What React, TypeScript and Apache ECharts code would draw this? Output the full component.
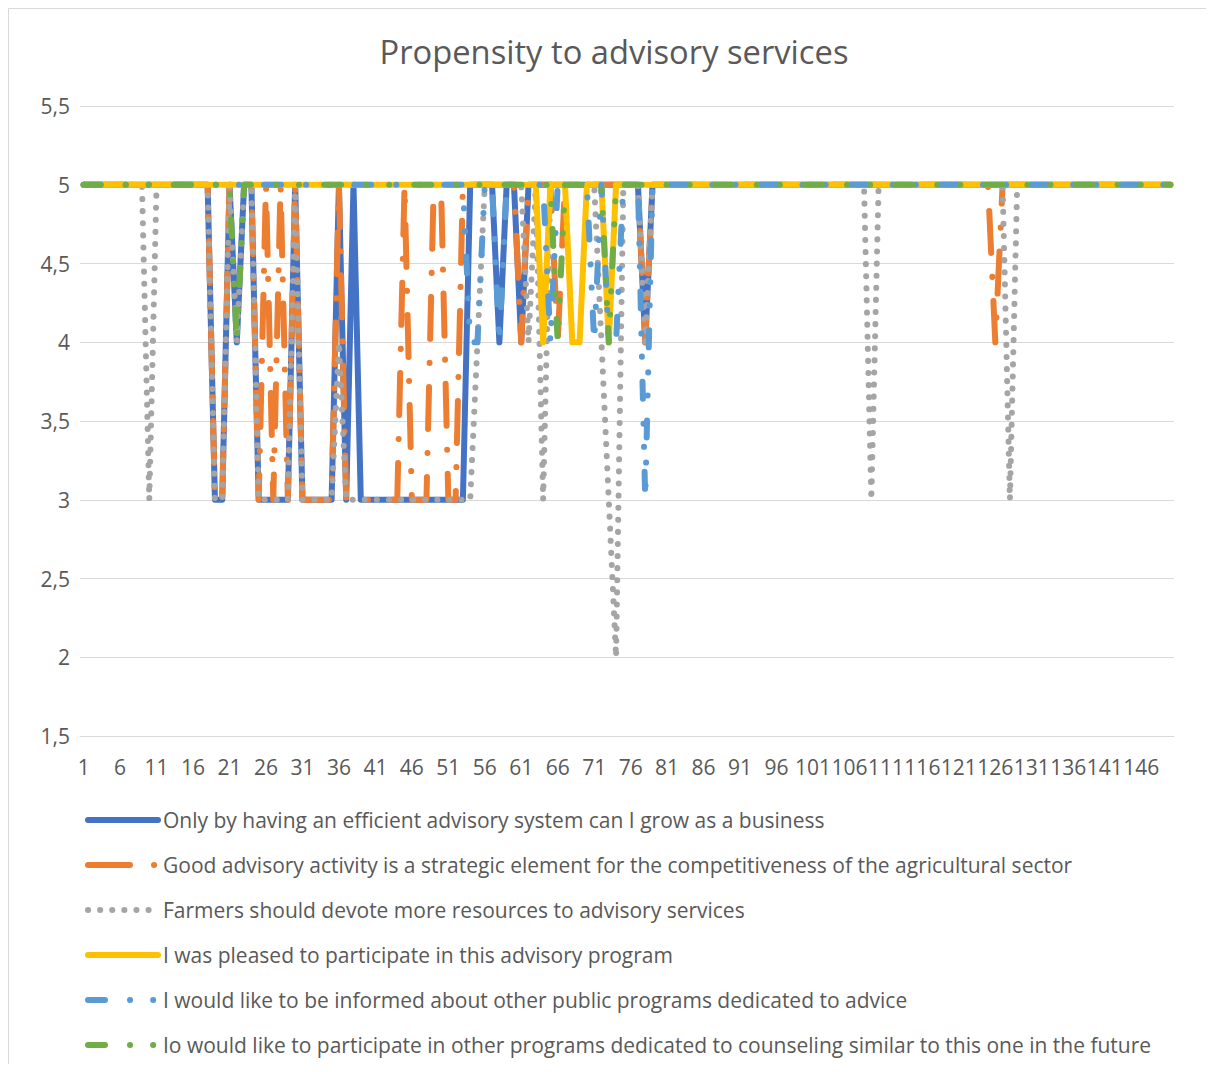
import React, { useEffect, useRef } from "react";
import * as echarts from "echarts";

const FONT = "'Open Sans', 'Noto Sans', sans-serif";
const TEXT = "#595959";

const categories: string[] = Array.from({ length: 150 }, (_, i) => String(i + 1));

const seriesNames = [
  "Only by having an efficient advisory system can I grow as a business",
  "Good advisory activity is a strategic element for the competitiveness of the agricultural sector",
  "Farmers should devote more resources to advisory services",
  "I was pleased to participate in this advisory program",
  "I would like to be informed about other public programs dedicated to advice",
  "Io would like to participate in other programs dedicated to counseling similar to this one in the future",
];

const onlyByHaving = [
  5, 5, 5, 5, 5, 5, 5, 5, 5, 5,
  5, 5, 5, 5, 5, 5, 5, 5, 3, 3,
  5, 4, 5, 5, 3, 3, 3, 3, 3, 5,
  3, 3, 3, 3, 3, 5, 3, 5, 3, 3,
  3, 3, 3, 3, 3, 3, 3, 3, 3, 3,
  3, 3, 3, 5, 5, 5, 5, 4, 5, 5,
  4, 5, 5, 5, 5, 5, 5, 5, 5, 5,
  5, 5, 5, 5, 5, 5, 5, 4, 5, 5,
  5, 5, 5, 5, 5, 5, 5, 5, 5, 5,
  5, 5, 5, 5, 5, 5, 5, 5, 5, 5,
  5, 5, 5, 5, 5, 5, 5, 5, 5, 5,
  5, 5, 5, 5, 5, 5, 5, 5, 5, 5,
  5, 5, 5, 5, 5, 5, 5, 5, 5, 5,
  5, 5, 5, 5, 5, 5, 5, 5, 5, 5,
  5, 5, 5, 5, 5, 5, 5, 5, 5, 5,
];

const goodAdvisory = [
  5, 5, 5, 5, 5, 5, 5, 5, 5, 5,
  5, 5, 5, 5, 5, 5, 5, 5, 3, 3,
  5, 5, 5, 5, 3, 5, 3, 5, 3, 5,
  3, 3, 3, 3, 3, 5, 3, 3, 3, 3,
  3, 3, 3, 3, 5, 3, 3, 3, 5, 5,
  3, 3, 5, 5, 5, 5, 5, 5, 5, 5,
  4, 5, 5, 5, 5, 4, 5, 5, 5, 5,
  5, 5, 5, 5, 5, 5, 5, 4, 5, 5,
  5, 5, 5, 5, 5, 5, 5, 5, 5, 5,
  5, 5, 5, 5, 5, 5, 5, 5, 5, 5,
  5, 5, 5, 5, 5, 5, 5, 5, 5, 5,
  5, 5, 5, 5, 5, 5, 5, 5, 5, 5,
  5, 5, 5, 5, 5, 4, 5, 5, 5, 5,
  5, 5, 5, 5, 5, 5, 5, 5, 5, 5,
  5, 5, 5, 5, 5, 5, 5, 5, 5, 5,
];

const farmersDevote = [
  5, 5, 5, 5, 5, 5, 5, 5, 5, 3,
  5, 5, 5, 5, 5, 5, 5, 5, 3, 3,
  5, 4, 5, 5, 3, 3, 3, 3, 3, 5,
  3, 3, 3, 3, 3, 4, 3, 3, 3, 3,
  3, 3, 3, 3, 3, 3, 3, 3, 3, 3,
  3, 3, 3, 3, 4, 5, 5, 5, 5, 5,
  5, 4, 5, 3, 5, 5, 5, 5, 5, 5,
  5, 4, 3, 2, 5, 5, 5, 4, 5, 5,
  5, 5, 5, 5, 5, 5, 5, 5, 5, 5,
  5, 5, 5, 5, 5, 5, 5, 5, 5, 5,
  5, 5, 5, 5, 5, 5, 5, 5, 3, 5,
  5, 5, 5, 5, 5, 5, 5, 5, 5, 5,
  5, 5, 5, 5, 5, 5, 5, 3, 5, 5,
  5, 5, 5, 5, 5, 5, 5, 5, 5, 5,
  5, 5, 5, 5, 5, 5, 5, 5, 5, 5,
];

const pleasedToParticipate = [
  5, 5, 5, 5, 5, 5, 5, 5, 5, 5,
  5, 5, 5, 5, 5, 5, 5, 5, 5, 5,
  5, 5, 5, 5, 5, 5, 5, 5, 5, 5,
  5, 5, 5, 5, 5, 5, 5, 5, 5, 5,
  5, 5, 5, 5, 5, 5, 5, 5, 5, 5,
  5, 5, 5, 5, 5, 5, 5, 5, 5, 5,
  5, 5, 5, 4, 5, 5, 5, 4, 4, 5,
  5, 5, 4, 5, 5, 5, 5, 5, 5, 5,
  5, 5, 5, 5, 5, 5, 5, 5, 5, 5,
  5, 5, 5, 5, 5, 5, 5, 5, 5, 5,
  5, 5, 5, 5, 5, 5, 5, 5, 5, 5,
  5, 5, 5, 5, 5, 5, 5, 5, 5, 5,
  5, 5, 5, 5, 5, 5, 5, 5, 5, 5,
  5, 5, 5, 5, 5, 5, 5, 5, 5, 5,
  5, 5, 5, 5, 5, 5, 5, 5, 5, 5,
];

const informedOtherPrograms = [
  5, 5, 5, 5, 5, 5, 5, 5, 5, 5,
  5, 5, 5, 5, 5, 5, 5, 5, 5, 5,
  5, 5, 5, 5, 5, 5, 5, 5, 5, 5,
  5, 5, 5, 5, 5, 5, 5, 5, 5, 5,
  5, 5, 5, 5, 5, 5, 5, 5, 5, 5,
  5, 5, 5, 4, 4, 5, 5, 4, 5, 5,
  5, 5, 5, 5, 4, 5, 5, 5, 5, 5,
  4, 5, 4, 4, 5, 5, 5, 3, 5, 5,
  5, 5, 5, 5, 5, 5, 5, 5, 5, 5,
  5, 5, 5, 5, 5, 5, 5, 5, 5, 5,
  5, 5, 5, 5, 5, 5, 5, 5, 5, 5,
  5, 5, 5, 5, 5, 5, 5, 5, 5, 5,
  5, 5, 5, 5, 5, 5, 5, 5, 5, 5,
  5, 5, 5, 5, 5, 5, 5, 5, 5, 5,
  5, 5, 5, 5, 5, 5, 5, 5, 5, 5,
];

const participateFuture = [
  5, 5, 5, 5, 5, 5, 5, 5, 5, 5,
  5, 5, 5, 5, 5, 5, 5, 5, 5, 5,
  5, 4, 5, 5, 5, 5, 5, 5, 5, 5,
  5, 5, 5, 5, 5, 5, 5, 5, 5, 5,
  5, 5, 5, 5, 5, 5, 5, 5, 5, 5,
  5, 5, 5, 5, 5, 5, 5, 5, 5, 5,
  5, 5, 5, 5, 5, 4, 5, 5, 5, 5,
  5, 5, 4, 5, 5, 5, 5, 5, 5, 5,
  5, 5, 5, 5, 5, 5, 5, 5, 5, 5,
  5, 5, 5, 5, 5, 5, 5, 5, 5, 5,
  5, 5, 5, 5, 5, 5, 5, 5, 5, 5,
  5, 5, 5, 5, 5, 5, 5, 5, 5, 5,
  5, 5, 5, 5, 5, 5, 5, 5, 5, 5,
  5, 5, 5, 5, 5, 5, 5, 5, 5, 5,
  5, 5, 5, 5, 5, 5, 5, 5, 5, 5,
];

const seriesValues = [
  onlyByHaving,
  goodAdvisory,
  farmersDevote,
  pleasedToParticipate,
  informedOtherPrograms,
  participateFuture,
];

const colors = ["#4472C4", "#ED7D31", "#A5A5A5", "#FFC000", "#5B9BD5", "#70AD47"];
const dashes: any[] = [
  "solid",
  [42, 24, 0.1, 24],
  [0.1, 12],
  "solid",
  [17, 25, 0.1, 23, 0.1, 25],
  [17, 25, 0.1, 23, 0.1, 25],
];

export default function App() {
  const ref = useRef<HTMLDivElement>(null);

  useEffect(() => {
    if (!ref.current) return;
    const chart = echarts.init(ref.current, undefined, { renderer: "svg" });
    chart.setOption({
      animation: false,
      graphic: [
        {
          type: "rect",
          shape: { x: 0.5, y: 0.5, width: 1210, height: 1078 },
          style: { fill: "none", stroke: "#D9D9D9", lineWidth: 1 },
          silent: true,
        },
      ],
      title: {
        text: "Propensity to advisory services",
        left: "center",
        top: 27,
        padding: 0,
        textStyle: { fontFamily: FONT, fontSize: 32.7, fontWeight: "normal", color: TEXT },
      },
      legend: {
        orient: "vertical",
        left: 77,
        top: 800,
        itemWidth: 70,
        itemHeight: 14,
        itemGap: 21,
        padding: 0,
        itemStyle: { opacity: 0 },
        lineStyle: { width: 6, cap: "round", type: "inherit" },
        textStyle: { fontFamily: FONT, fontSize: 21, color: TEXT, lineHeight: 24 },
        data: seriesNames,
      },
      grid: { left: 72, top: 98, width: 1094, height: 630, containLabel: false },
      xAxis: {
        type: "category",
        data: categories,
        boundaryGap: true,
        axisTick: { show: false },
        axisLine: { lineStyle: { color: "#D9D9D9", width: 1 } },
        axisLabel: {
          interval: 4,
          margin: 20,
          color: TEXT,
          fontFamily: FONT,
          fontSize: 21,
          hideOverlap: false,
        },
        splitLine: { show: false },
      },
      yAxis: {
        type: "value",
        min: 1.5,
        max: 5.5,
        interval: 0.5,
        axisLine: { show: false },
        axisTick: { show: false },
        axisLabel: {
          margin: 10,
          color: TEXT,
          fontFamily: FONT,
          fontSize: 21,
          formatter: (v: number) => String(v).replace(".", ","),
        },
        splitLine: { lineStyle: { color: "#D9D9D9", width: 1 } },
      },
      series: seriesNames.map((name, i) => ({
        name,
        type: "line",
        data: seriesValues[i],
        symbol: "none",
        showSymbol: false,
        color: colors[i],
        lineStyle: {
          color: colors[i],
          width: 6,
          type: dashes[i],
          cap: "round",
          join: "round",
        },
        emphasis: { disabled: true },
      })),
    });
    return () => chart.dispose();
  }, []);

  return (
    <div style={{ width: 1198, height: 1056, overflow: "hidden" }}>
      <div ref={ref} style={{ width: 1212, height: 1080 }} />
    </div>
  );
}
